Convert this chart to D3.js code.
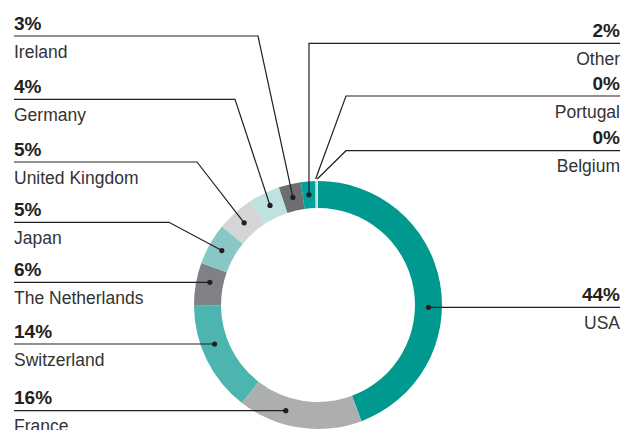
<!DOCTYPE html>
<html>
<head>
<meta charset="utf-8">
<script src="https://cdn.jsdelivr.net/npm/d3@7"></script>
<style>
  body { margin: 0; background: #fff; }
  text { font-family: "Liberation Sans", Arial, sans-serif; }
</style>
</head>
<body>
<script>
const countries = ["USA", "France", "Switzerland", "The Netherlands", "Japan", "United Kingdom", "Germany", "Ireland", "Other", "Portugal", "Belgium"];
const shares = [44.3, 16.2, 14.4, 5.6, 5.4, 4.9, 4.1, 2.9, 1.8, 0.2, 0.2];
const colors = ["#00998f", "#adaeb0", "#4db5af", "#808184", "#88c7c6", "#d4d5d6", "#bfe2e1", "#6d6e70", "#00a19a", "#8fd0cc", "#c6e8e6"];

// label layout (leader line height, side, routing)
const side = ["right", "left", "left", "left", "left", "left", "left", "left", "right", "right", "right"];
const lineY = [307.3, 410.7, 344, 282.3, 222.3, 162, 99.3, 36, 43.3, 96, 150.7];
const route = ["flat", "flat", "flat", "flat", "elbow", "elbow", "elbow", "elbow", "vertical", "edge", "edge"];
const elbowX = [0, 0, 0, 0, 169, 197, 235, 258, 0, 346, 346];

const WIDTH = 623, HEIGHT = 430;
const cx = 318, cy = 305;
const rOuter = 124, rInner = 97, rMid = (rOuter + rInner) / 2;
const leftX = 14, rightX = 620;

const svg = d3.select("body").append("svg")
  .attr("width", WIDTH).attr("height", HEIGHT);

const data = countries.map((c, i) => ({ name: c, value: shares[i], i: i }));
const arcs = d3.pie().sort(null).value(d => d.value)(data);

const arc = d3.arc().innerRadius(rInner).outerRadius(rOuter);
const midArc = d3.arc().innerRadius(rMid).outerRadius(rMid);
const edgeArc = d3.arc().innerRadius(rOuter + 2).outerRadius(rOuter + 2);

const ring = svg.append("g").attr("transform", `translate(${cx},${cy})`);
ring.selectAll("path")
  .data(arcs)
  .enter()
  .append("path")
  .attr("d", arc)
  .attr("fill", d => colors[d.data.i]);

const lines = svg.append("g");

arcs.forEach(a => {
  const i = a.data.i;
  const y = lineY[i];
  const isLeft = side[i] === "left";
  const x0 = isLeft ? leftX : rightX;
  let pts, dot = true;

  if (route[i] === "flat") {
    const dy = y - cy;
    const dx = Math.sqrt(rMid * rMid - dy * dy);
    pts = [[x0, y], [cx + (isLeft ? -dx : dx), y]];
  } else {
    const c = route[i] === "edge" ? edgeArc.centroid(a) : midArc.centroid(a);
    const end = [cx + c[0], cy + c[1]];
    const ex = route[i] === "vertical" ? end[0] : elbowX[i];
    pts = [[x0, y], [ex, y], end];
    if (route[i] === "edge") dot = false;
  }

  lines.append("path")
    .attr("d", d3.line()(pts))
    .attr("fill", "none")
    .attr("stroke", "#231f20")
    .attr("stroke-width", 1.2);

  if (dot) {
    const p = pts[pts.length - 1];
    lines.append("circle")
      .attr("cx", p[0]).attr("cy", p[1]).attr("r", 2.6)
      .attr("fill", "#231f20");
  }

  const anchor = isLeft ? "start" : "end";
  svg.append("text")
    .attr("x", x0).attr("y", y - 6.5)
    .attr("text-anchor", anchor)
    .attr("font-size", 19)
    .attr("font-weight", "bold")
    .attr("fill", "#231f20")
    .text(Math.round(a.data.value) + "%");

  svg.append("text")
    .attr("x", x0).attr("y", y + 21.5)
    .attr("text-anchor", anchor)
    .attr("font-size", 17.5)
    .attr("fill", "#333")
    .text(a.data.name);
});
</script>
</body>
</html>
